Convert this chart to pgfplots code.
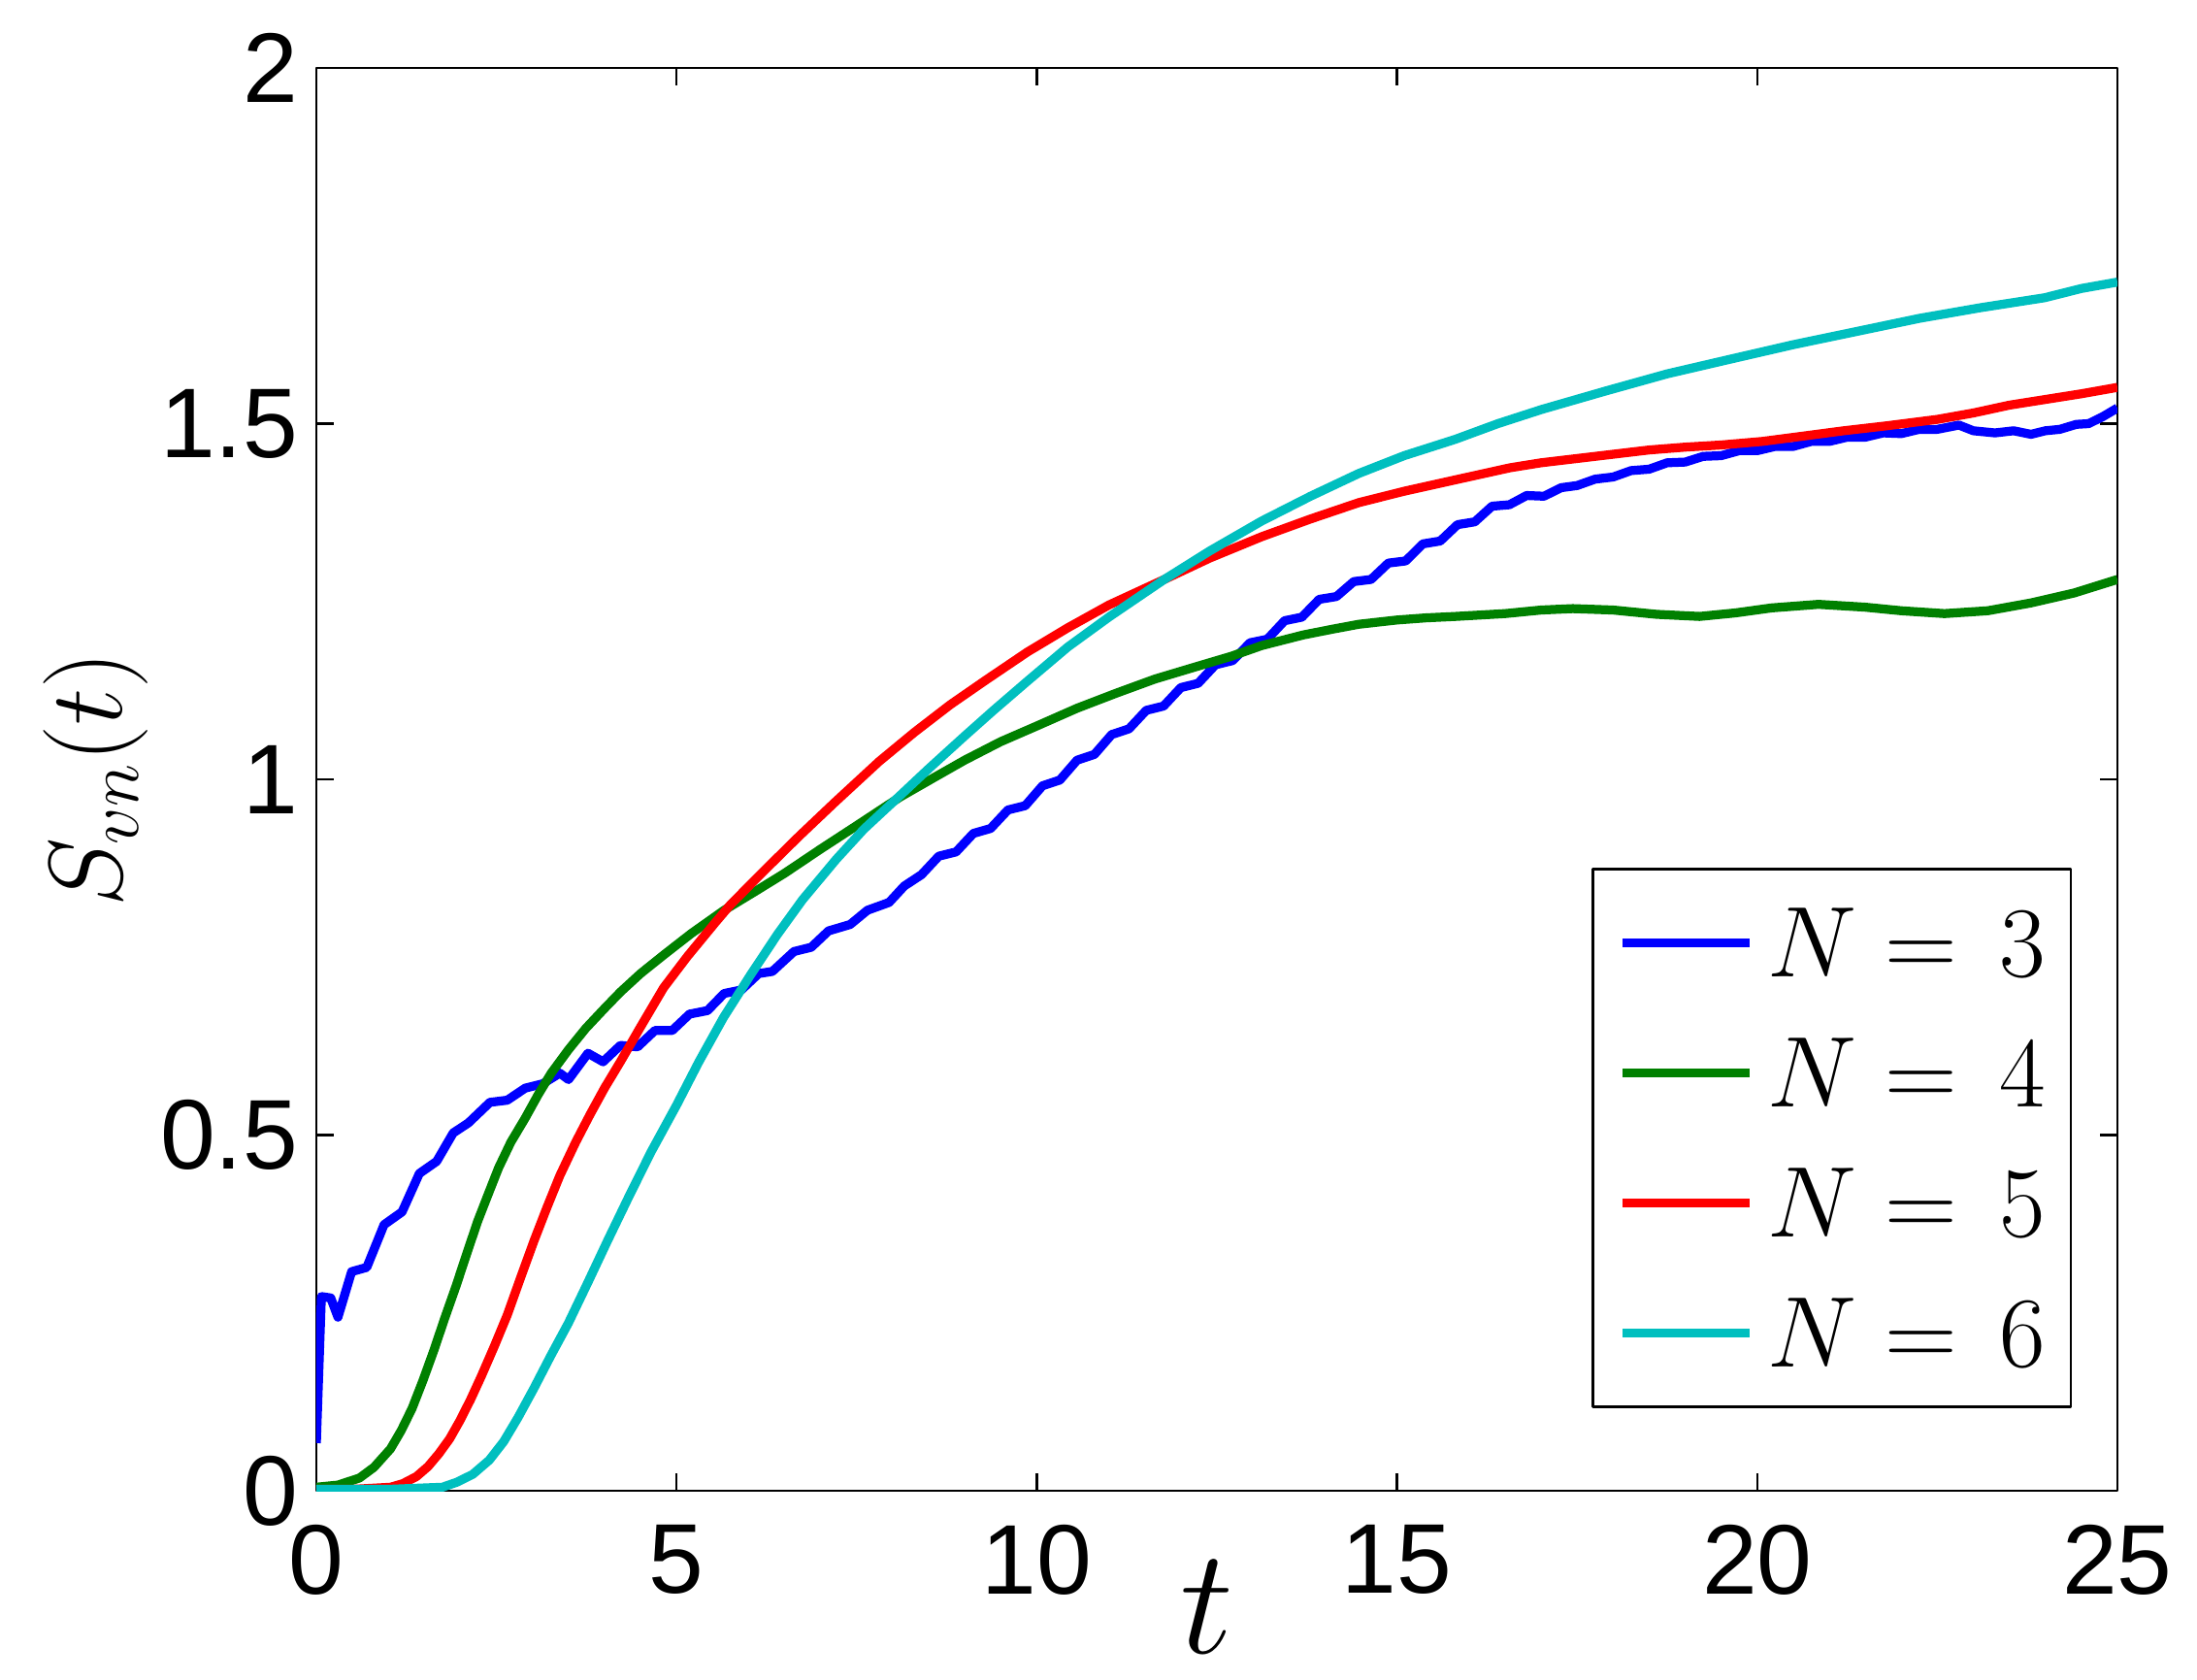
\RequirePackage{fix-cm}
\documentclass[border=0pt]{standalone}
\usepackage{fontspec}
\usepackage{pgfplots}
\pgfplotsset{compat=1.18}
\newfontfamily\ticksf{Liberation Sans}
\definecolor{mblue}{rgb}{0,0,1}
\definecolor{mgreen}{rgb}{0,0.5,0}
\definecolor{mred}{rgb}{1,0,0}
\definecolor{mcyan}{rgb}{0,0.75,0.75}
\begin{document}
\begin{tikzpicture}
\useasboundingbox (-65.2pt,-38.8pt) rectangle (387.6pt,307.2pt);
\begin{axis}[
  scale only axis,
  width=371.2pt, height=293.2pt,
  xmin=0, xmax=25, ymin=0, ymax=2,
  xtick={0,5,10,15,20,25},
  xticklabels={0,5,10,15,20,25},
  ytick={0,0.5,1,1.5,2},
  yticklabels={0,0.5,1,1.5,2},
  tick align=inside,
  major tick length=3.6pt,
  axis line style={line width=0.5pt},
  every tick/.style={black, line width=0.5pt},
  tick label style={font=\ticksf\fontsize{20.4}{24}\selectfont, inner sep=0pt},
  xticklabel shift=6.8pt,
  yticklabel shift=3.6pt,
  xlabel={$t$},
  xlabel style={font=\fontsize{31}{37}\selectfont, inner sep=0pt, at={(axis description cs:0.5,0)}, anchor=base, yshift=-33.4pt, xshift=-2pt},
  ylabel={$S_{vn}(t)$},
  ylabel style={font=\fontsize{21.5}{26}\selectfont, at={(axis description cs:-0.1223,0.5)}, anchor=center},
  legend cell align=left,
  legend image code/.code={\draw[#1] (0pt,0pt) -- (26.2pt,0pt);},
  legend style={at={(0.9747,0.058)}, anchor=south east, draw=black, line width=0.5pt,
    font=\fontsize{20.7}{25}\selectfont, inner xsep=5.2pt, inner ysep=8.2pt,
    row sep=12.8pt, column sep=2.8pt,
    nodes={inner sep=0pt, text height=14pt, text depth=0pt}},
  line join=round,
]
% N = 3
\addplot[color=mblue, line width=1.85pt] coordinates {
(0,0.067) (0.07,0.273) (0.2,0.271) (0.3,0.244) (0.49,0.308) (0.7,0.314) (0.94,0.374) (1.19,0.392)
(1.43,0.446) (1.67,0.463) (1.9,0.503) (2.11,0.517) (2.41,0.546) (2.65,0.549) (2.9,0.566) (3.14,0.572)
(3.38,0.587) (3.5,0.578) (3.77,0.615) (3.98,0.603) (4.22,0.626) (4.46,0.624) (4.7,0.647) (4.94,0.647)
(5.18,0.670) (5.43,0.675) (5.66,0.699) (5.9,0.704) (6.14,0.727) (6.33,0.730) (6.63,0.758) (6.87,0.764)
(7.11,0.787) (7.41,0.796) (7.65,0.816) (7.95,0.827) (8.16,0.850)
(8.40,0.866) (8.64,0.892) (8.88,0.898) (9.12,0.924) (9.36,0.931) (9.60,0.957) (9.84,0.963)
(10.08,0.991) (10.32,0.999) (10.56,1.027) (10.80,1.035) (11.04,1.063) (11.28,1.071) (11.52,1.097)
(11.76,1.103) (12.00,1.129) (12.24,1.135) (12.48,1.161) (12.72,1.167) (12.96,1.192) (13.20,1.197)
(13.44,1.223) (13.68,1.228) (13.92,1.253) (14.16,1.257) (14.40,1.278) (14.64,1.281) (14.88,1.304)
(15.12,1.307) (15.36,1.331) (15.60,1.335) (15.84,1.358) (16.08,1.362) (16.32,1.384) (16.56,1.386)
(16.80,1.399) (17.04,1.398) (17.28,1.410) (17.5,1.413) (17.75,1.422) (18.0,1.425) (18.25,1.434)
(18.5,1.436) (18.75,1.445) (19.0,1.446) (19.25,1.454) (19.5,1.455) (19.75,1.462) (20.0,1.462)
(20.25,1.468) (20.5,1.468) (20.75,1.475) (21.0,1.475) (21.25,1.481) (21.5,1.481) (21.75,1.487)
(22.0,1.486) (22.25,1.492) (22.5,1.492) (22.8,1.498) (23.0,1.490) (23.3,1.487) (23.56,1.490)
(23.8,1.485) (24.0,1.490) (24.2,1.492) (24.43,1.499) (24.6,1.500) (24.8,1.510) (25.0,1.522)
};
\addlegendentry{$N=\mkern2.5mu 3$}
% N = 4
\addplot[color=mgreen, line width=1.85pt] coordinates {
(0,0.005) (0.3,0.008) (0.6,0.018) (0.8,0.033) (1.03,0.059) (1.18,0.085) (1.33,0.116) (1.48,0.155)
(1.63,0.197) (1.78,0.242) (1.94,0.288) (2.09,0.334) (2.24,0.379) (2.39,0.418) (2.53,0.454) (2.7,0.49)
(2.9,0.524) (3.08,0.557) (3.26,0.587) (3.5,0.62) (3.74,0.65) (4.0,0.678) (4.22,0.701) (4.5,0.727)
(4.82,0.753) (5.2,0.783) (5.66,0.816) (6.1,0.843) (6.5,0.868) (7.0,0.902) (7.5,0.935) (8.1,0.975)
(8.6,1.004) (9.0,1.027) (9.5,1.053) (10.0,1.075) (10.56,1.100) (11.1,1.121) (11.64,1.141) (12.2,1.158)
(12.7,1.173) (13.12,1.188) (13.7,1.203) (14.1,1.211) (14.47,1.218) (15.0,1.224) (15.4,1.227) (15.81,1.229)
(16.5,1.233) (17.0,1.238) (17.44,1.240) (18.0,1.238) (18.6,1.232) (19.2,1.229) (19.7,1.234) (20.2,1.241)
(20.85,1.246) (21.5,1.242) (22.0,1.237) (22.6,1.233) (23.2,1.237) (23.8,1.248) (24.4,1.262) (25,1.281)
};
\addlegendentry{$N=\mkern2.5mu 4$}
% N = 5
\addplot[color=mred, line width=1.85pt] coordinates {
(0,0.002) (0.5,0.002) (1.03,0.005) (1.2,0.010) (1.39,0.020) (1.55,0.034) (1.7,0.052) (1.85,0.073)
(1.99,0.098) (2.14,0.128) (2.29,0.161) (2.47,0.203) (2.65,0.247) (2.83,0.298) (3.02,0.351) (3.2,0.398)
(3.38,0.443) (3.6,0.49) (3.8,0.529) (4.0,0.566) (4.22,0.603) (4.5,0.652) (4.82,0.707) (5.15,0.751)
(5.54,0.799) (5.75,0.824) (6.2,0.870) (6.7,0.920) (7.2,0.968) (7.81,1.025) (8.3,1.066) (8.8,1.105)
(9.3,1.140) (9.87,1.179) (10.43,1.213) (11.0,1.245) (11.77,1.281) (12.4,1.311) (13.12,1.341) (13.8,1.366)
(14.47,1.389) (15.1,1.405) (15.81,1.421) (16.57,1.438) (17.0,1.445) (17.5,1.451) (18.0,1.457)
(18.5,1.463) (19.0,1.467) (19.5,1.470) (20.07,1.475) (20.6,1.482) (21.2,1.490) (21.8,1.497) (22.5,1.506)
(23.0,1.515) (23.5,1.526) (24.0,1.534) (24.5,1.542) (25,1.551)
};
\addlegendentry{$N=\mkern2.5mu 5$}
% N = 6
\addplot[color=mcyan, line width=1.85pt] coordinates {
(0,0.002) (1.0,0.002) (1.75,0.005) (1.95,0.012) (2.17,0.023) (2.4,0.043) (2.6,0.069) (2.8,0.103)
(3.02,0.144) (3.25,0.189) (3.5,0.236) (3.77,0.293) (4.04,0.351) (4.35,0.416) (4.65,0.477) (5.0,0.542)
(5.31,0.603) (5.65,0.665) (6.02,0.724) (6.4,0.782) (6.75,0.831) (7.22,0.888) (7.6,0.930) (8.1,0.977)
(8.5,1.015) (9.0,1.061) (9.4,1.097) (9.87,1.138) (10.43,1.186) (11.0,1.228) (11.77,1.281) (12.4,1.321)
(13.12,1.363) (13.8,1.398) (14.47,1.430) (15.1,1.455) (15.81,1.478) (16.4,1.500) (17.01,1.520)
(17.9,1.546) (18.75,1.570) (19.6,1.590) (20.5,1.611) (21.4,1.630) (22.25,1.648) (23.1,1.663)
(23.99,1.677) (24.5,1.690) (25,1.699)
};
\addlegendentry{$N=\mkern2.5mu 6$}
\end{axis}
\end{tikzpicture}
\end{document}
